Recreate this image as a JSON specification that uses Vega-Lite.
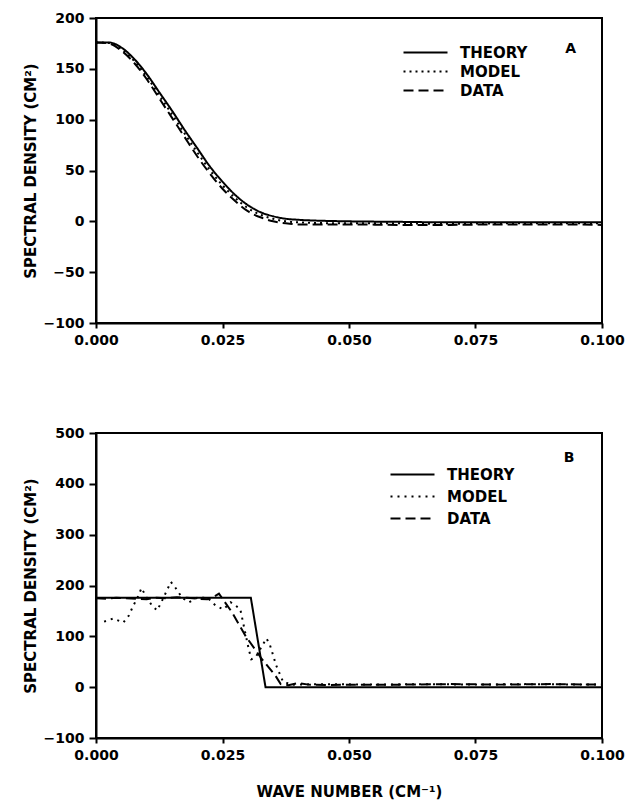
{
  "$schema": "https://vega.github.io/schema/vega-lite/v6.json",
  "padding": {"left": 22, "top": 10, "right": 30, "bottom": 5},
  "background": "white",
  "config": {
    "font": "DejaVu Sans",
    "view": {"stroke": "black", "strokeWidth": 2},
    "axis": {
      "domainColor": "black", "domainWidth": 2, "tickColor": "black", "tickWidth": 2, "grid": false, "labelFlush": false,
      "labelFont": "DejaVu Sans", "labelFontWeight": "bold", "labelFontSize": 14, "labelColor": "black",
      "titleFont": "DejaVu Sans", "titleFontWeight": "bold", "titleFontSize": 15, "titleColor": "black"
    },
    "legend": {
      "title": null, "orient": "none", "symbolType": "M-4,0H4", "symbolSize": 121, "symbolStrokeWidth": 2,
      "symbolStrokeColor": "black", "symbolFillColor": "transparent",
      "labelFont": "DejaVu Sans", "labelFontWeight": "bold", "labelFontSize": 15, "labelColor": "black", "labelOffset": 27
    }
  },
  "datasets": {
    "curves": [
      {"panel": "A", "series": "THEORY", "x": 0, "y": 176},
      {"panel": "A", "series": "THEORY", "x": 0.0025, "y": 176},
      {"panel": "A", "series": "THEORY", "x": 0.005, "y": 171},
      {"panel": "A", "series": "THEORY", "x": 0.0075, "y": 160},
      {"panel": "A", "series": "THEORY", "x": 0.01, "y": 145},
      {"panel": "A", "series": "THEORY", "x": 0.0125, "y": 127},
      {"panel": "A", "series": "THEORY", "x": 0.015, "y": 109},
      {"panel": "A", "series": "THEORY", "x": 0.0175, "y": 90},
      {"panel": "A", "series": "THEORY", "x": 0.02, "y": 72},
      {"panel": "A", "series": "THEORY", "x": 0.0225, "y": 54},
      {"panel": "A", "series": "THEORY", "x": 0.025, "y": 39},
      {"panel": "A", "series": "THEORY", "x": 0.0275, "y": 26},
      {"panel": "A", "series": "THEORY", "x": 0.03, "y": 16},
      {"panel": "A", "series": "THEORY", "x": 0.0325, "y": 9},
      {"panel": "A", "series": "THEORY", "x": 0.035, "y": 5},
      {"panel": "A", "series": "THEORY", "x": 0.0375, "y": 2.5},
      {"panel": "A", "series": "THEORY", "x": 0.04, "y": 1.5},
      {"panel": "A", "series": "THEORY", "x": 0.045, "y": 0.5},
      {"panel": "A", "series": "THEORY", "x": 0.05, "y": 0},
      {"panel": "A", "series": "THEORY", "x": 0.06, "y": -0.5},
      {"panel": "A", "series": "THEORY", "x": 0.07, "y": -1},
      {"panel": "A", "series": "THEORY", "x": 0.08, "y": -1},
      {"panel": "A", "series": "THEORY", "x": 0.09, "y": -1},
      {"panel": "A", "series": "THEORY", "x": 0.1, "y": -1},
      {"panel": "A", "series": "MODEL", "x": 0, "y": 176},
      {"panel": "A", "series": "MODEL", "x": 0.0025, "y": 175.5},
      {"panel": "A", "series": "MODEL", "x": 0.005, "y": 169.5},
      {"panel": "A", "series": "MODEL", "x": 0.0075, "y": 158},
      {"panel": "A", "series": "MODEL", "x": 0.01, "y": 142.5},
      {"panel": "A", "series": "MODEL", "x": 0.0125, "y": 124},
      {"panel": "A", "series": "MODEL", "x": 0.015, "y": 105.5},
      {"panel": "A", "series": "MODEL", "x": 0.0175, "y": 86.5},
      {"panel": "A", "series": "MODEL", "x": 0.02, "y": 68},
      {"panel": "A", "series": "MODEL", "x": 0.0225, "y": 50.5},
      {"panel": "A", "series": "MODEL", "x": 0.025, "y": 35.5},
      {"panel": "A", "series": "MODEL", "x": 0.0275, "y": 23},
      {"panel": "A", "series": "MODEL", "x": 0.03, "y": 13},
      {"panel": "A", "series": "MODEL", "x": 0.0325, "y": 6.5},
      {"panel": "A", "series": "MODEL", "x": 0.035, "y": 2.5},
      {"panel": "A", "series": "MODEL", "x": 0.0375, "y": 0},
      {"panel": "A", "series": "MODEL", "x": 0.04, "y": -1},
      {"panel": "A", "series": "MODEL", "x": 0.05, "y": -2},
      {"panel": "A", "series": "MODEL", "x": 0.06, "y": -2},
      {"panel": "A", "series": "MODEL", "x": 0.07, "y": -2.5},
      {"panel": "A", "series": "MODEL", "x": 0.08, "y": -2},
      {"panel": "A", "series": "MODEL", "x": 0.09, "y": -2},
      {"panel": "A", "series": "MODEL", "x": 0.1, "y": -2},
      {"panel": "A", "series": "DATA", "x": 0, "y": 176},
      {"panel": "A", "series": "DATA", "x": 0.0025, "y": 175},
      {"panel": "A", "series": "DATA", "x": 0.005, "y": 168},
      {"panel": "A", "series": "DATA", "x": 0.0075, "y": 156},
      {"panel": "A", "series": "DATA", "x": 0.01, "y": 140},
      {"panel": "A", "series": "DATA", "x": 0.0125, "y": 121},
      {"panel": "A", "series": "DATA", "x": 0.015, "y": 102},
      {"panel": "A", "series": "DATA", "x": 0.0175, "y": 83},
      {"panel": "A", "series": "DATA", "x": 0.02, "y": 64},
      {"panel": "A", "series": "DATA", "x": 0.0225, "y": 47},
      {"panel": "A", "series": "DATA", "x": 0.025, "y": 32},
      {"panel": "A", "series": "DATA", "x": 0.0275, "y": 20},
      {"panel": "A", "series": "DATA", "x": 0.03, "y": 10},
      {"panel": "A", "series": "DATA", "x": 0.0325, "y": 4},
      {"panel": "A", "series": "DATA", "x": 0.035, "y": 0},
      {"panel": "A", "series": "DATA", "x": 0.0375, "y": -2},
      {"panel": "A", "series": "DATA", "x": 0.04, "y": -3},
      {"panel": "A", "series": "DATA", "x": 0.05, "y": -3},
      {"panel": "A", "series": "DATA", "x": 0.06, "y": -3.5},
      {"panel": "A", "series": "DATA", "x": 0.07, "y": -3.5},
      {"panel": "A", "series": "DATA", "x": 0.08, "y": -3},
      {"panel": "A", "series": "DATA", "x": 0.09, "y": -3},
      {"panel": "A", "series": "DATA", "x": 0.1, "y": -3.5},
      {"panel": "B", "series": "THEORY", "x": 0, "y": 176},
      {"panel": "B", "series": "THEORY", "x": 0.0306, "y": 176},
      {"panel": "B", "series": "THEORY", "x": 0.0335, "y": 0},
      {"panel": "B", "series": "THEORY", "x": 0.1, "y": 0},
      {"panel": "B", "series": "MODEL", "x": 0.0016, "y": 129},
      {"panel": "B", "series": "MODEL", "x": 0.0034, "y": 135},
      {"panel": "B", "series": "MODEL", "x": 0.0054, "y": 127},
      {"panel": "B", "series": "MODEL", "x": 0.0065, "y": 141},
      {"panel": "B", "series": "MODEL", "x": 0.0073, "y": 159},
      {"panel": "B", "series": "MODEL", "x": 0.0082, "y": 176},
      {"panel": "B", "series": "MODEL", "x": 0.009, "y": 195},
      {"panel": "B", "series": "MODEL", "x": 0.01, "y": 176},
      {"panel": "B", "series": "MODEL", "x": 0.0111, "y": 160},
      {"panel": "B", "series": "MODEL", "x": 0.0121, "y": 151},
      {"panel": "B", "series": "MODEL", "x": 0.013, "y": 169},
      {"panel": "B", "series": "MODEL", "x": 0.0139, "y": 188},
      {"panel": "B", "series": "MODEL", "x": 0.0148, "y": 207},
      {"panel": "B", "series": "MODEL", "x": 0.0159, "y": 193},
      {"panel": "B", "series": "MODEL", "x": 0.017, "y": 176},
      {"panel": "B", "series": "MODEL", "x": 0.0184, "y": 167},
      {"panel": "B", "series": "MODEL", "x": 0.02, "y": 176},
      {"panel": "B", "series": "MODEL", "x": 0.022, "y": 176},
      {"panel": "B", "series": "MODEL", "x": 0.0237, "y": 160},
      {"panel": "B", "series": "MODEL", "x": 0.0252, "y": 153},
      {"panel": "B", "series": "MODEL", "x": 0.0266, "y": 167},
      {"panel": "B", "series": "MODEL", "x": 0.0285, "y": 154},
      {"panel": "B", "series": "MODEL", "x": 0.0302, "y": 74},
      {"panel": "B", "series": "MODEL", "x": 0.0307, "y": 55},
      {"panel": "B", "series": "MODEL", "x": 0.0316, "y": 60},
      {"panel": "B", "series": "MODEL", "x": 0.0337, "y": 96},
      {"panel": "B", "series": "MODEL", "x": 0.0344, "y": 82},
      {"panel": "B", "series": "MODEL", "x": 0.035, "y": 63},
      {"panel": "B", "series": "MODEL", "x": 0.0356, "y": 43},
      {"panel": "B", "series": "MODEL", "x": 0.037, "y": 10},
      {"panel": "B", "series": "MODEL", "x": 0.039, "y": 5},
      {"panel": "B", "series": "MODEL", "x": 0.045, "y": 6},
      {"panel": "B", "series": "MODEL", "x": 0.055, "y": 5},
      {"panel": "B", "series": "MODEL", "x": 0.065, "y": 6},
      {"panel": "B", "series": "MODEL", "x": 0.075, "y": 5},
      {"panel": "B", "series": "MODEL", "x": 0.085, "y": 6},
      {"panel": "B", "series": "MODEL", "x": 0.1, "y": 5},
      {"panel": "B", "series": "DATA", "x": 0, "y": 175},
      {"panel": "B", "series": "DATA", "x": 0.002, "y": 174},
      {"panel": "B", "series": "DATA", "x": 0.004, "y": 176},
      {"panel": "B", "series": "DATA", "x": 0.006, "y": 175},
      {"panel": "B", "series": "DATA", "x": 0.008, "y": 174},
      {"panel": "B", "series": "DATA", "x": 0.01, "y": 173},
      {"panel": "B", "series": "DATA", "x": 0.012, "y": 176},
      {"panel": "B", "series": "DATA", "x": 0.014, "y": 175},
      {"panel": "B", "series": "DATA", "x": 0.016, "y": 177},
      {"panel": "B", "series": "DATA", "x": 0.018, "y": 176},
      {"panel": "B", "series": "DATA", "x": 0.02, "y": 174},
      {"panel": "B", "series": "DATA", "x": 0.022, "y": 173},
      {"panel": "B", "series": "DATA", "x": 0.023, "y": 176},
      {"panel": "B", "series": "DATA", "x": 0.0243, "y": 184},
      {"panel": "B", "series": "DATA", "x": 0.0269, "y": 147},
      {"panel": "B", "series": "DATA", "x": 0.0296, "y": 100},
      {"panel": "B", "series": "DATA", "x": 0.0328, "y": 55},
      {"panel": "B", "series": "DATA", "x": 0.0355, "y": 22},
      {"panel": "B", "series": "DATA", "x": 0.0365, "y": 6},
      {"panel": "B", "series": "DATA", "x": 0.038, "y": 4},
      {"panel": "B", "series": "DATA", "x": 0.04, "y": 8},
      {"panel": "B", "series": "DATA", "x": 0.042, "y": 5},
      {"panel": "B", "series": "DATA", "x": 0.046, "y": 4},
      {"panel": "B", "series": "DATA", "x": 0.05, "y": 5},
      {"panel": "B", "series": "DATA", "x": 0.06, "y": 5},
      {"panel": "B", "series": "DATA", "x": 0.07, "y": 6},
      {"panel": "B", "series": "DATA", "x": 0.08, "y": 5},
      {"panel": "B", "series": "DATA", "x": 0.09, "y": 6},
      {"panel": "B", "series": "DATA", "x": 0.1, "y": 5}
    ]
  },
  "vconcat": [
    {
      "width": 506, "height": 305,
      "layer": [
        {
          "data": {"name": "curves"},
          "transform": [{"filter": "datum.panel == 'A'"}],
          "mark": {"type": "line", "strokeWidth": 2, "color": "black", "interpolate": "monotone"},
          "encoding": {
            "x": {"field": "x", "type": "quantitative", "scale": {"domain": [0, 0.1], "nice": false},
              "axis": {"values": [0, 0.025, 0.05, 0.075, 0.1], "format": ".3f", "title": null, "tickSize": 5, "labelPadding": 5}},
            "y": {"field": "y", "type": "quantitative", "scale": {"domain": [-100, 200], "nice": false},
              "axis": {"values": [-100, -50, 0, 50, 100, 150, 200], "format": "d", "title": "SPECTRAL DENSITY (CM²)", "tickSize": 7, "labelPadding": 5, "titlePadding": 5}},
            "strokeDash": {"field": "series", "type": "nominal",
              "scale": {"domain": ["THEORY", "MODEL", "DATA"], "range": [[1, 0], [2, 4], [10, 5]]},
              "legend": {"legendX": 322, "legendY": 27, "rowPadding": 3}}
          }
        },
        {
          "data": {"values": [{}]},
          "mark": {"type": "text", "fontWeight": "bold", "fontSize": 14, "font": "DejaVu Sans", "color": "black"},
          "encoding": {"x": {"datum": 0.0938}, "y": {"datum": 170}, "text": {"value": "A"}}
        }
      ]
    },
    {
      "width": 506, "height": 305,
      "layer": [
        {
          "data": {"name": "curves"},
          "transform": [{"filter": "datum.panel == 'B'"}],
          "mark": {"type": "line", "strokeWidth": 2, "color": "black"},
          "encoding": {
            "x": {"field": "x", "type": "quantitative", "scale": {"domain": [0, 0.1], "nice": false},
              "axis": {"values": [0, 0.025, 0.05, 0.075, 0.1], "format": ".3f", "title": "WAVE NUMBER (CM⁻¹)", "tickSize": 5, "labelPadding": 5, "titlePadding": 22}},
            "y": {"field": "y", "type": "quantitative", "scale": {"domain": [-100, 500], "nice": false},
              "axis": {"values": [-100, 0, 100, 200, 300, 400, 500], "format": "d", "title": "SPECTRAL DENSITY (CM²)", "tickSize": 7, "labelPadding": 5, "titlePadding": 5}},
            "strokeDash": {"field": "series", "type": "nominal",
              "scale": {"domain": ["THEORY", "MODEL", "DATA"], "range": [[1, 0], [2, 5], [10, 5]]},
              "legend": {"legendX": 309, "legendY": 34, "rowPadding": 6}}
          }
        },
        {
          "data": {"values": [{}]},
          "mark": {"type": "text", "fontWeight": "bold", "fontSize": 14, "font": "DejaVu Sans", "color": "black"},
          "encoding": {"x": {"datum": 0.0935}, "y": {"datum": 451}, "text": {"value": "B"}}
        }
      ]
    }
  ],
  "spacing": 110,
  "bounds": "flush",
  "resolve": {"scale": {"strokeDash": "independent"}, "legend": {"strokeDash": "independent"}}
}
